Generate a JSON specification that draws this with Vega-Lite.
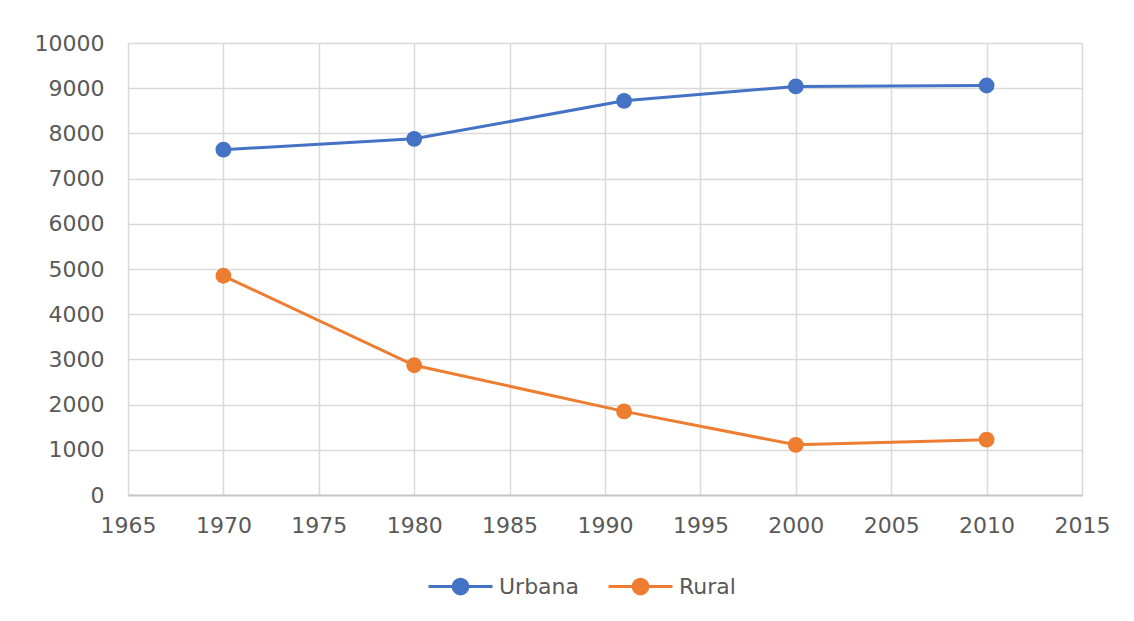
{
  "$schema": "https://vega.github.io/schema/vega-lite/v6.json",
  "width": 954,
  "height": 452,
  "autosize": "none",
  "padding": {"left": 128, "top": 43, "right": 52, "bottom": 126},
  "background": "white",
  "config": {
    "view": {"stroke": null},
    "font": "DejaVu Sans"
  },
  "data": {
    "values": [
      {"year": 1970, "series": "Urbana", "value": 7640},
      {"year": 1980, "series": "Urbana", "value": 7880},
      {"year": 1991, "series": "Urbana", "value": 8720},
      {"year": 2000, "series": "Urbana", "value": 9040},
      {"year": 2010, "series": "Urbana", "value": 9060},
      {"year": 1970, "series": "Rural", "value": 4850},
      {"year": 1980, "series": "Rural", "value": 2870},
      {"year": 1991, "series": "Rural", "value": 1850},
      {"year": 2000, "series": "Rural", "value": 1110},
      {"year": 2010, "series": "Rural", "value": 1225}
    ]
  },
  "encoding": {
    "x": {
      "field": "year",
      "type": "quantitative",
      "scale": {"domain": [1965, 2015], "nice": false, "zero": false},
      "axis": {
        "title": null,
        "values": [1965, 1970, 1975, 1980, 1985, 1990, 1995, 2000, 2005, 2010, 2015],
        "format": "d",
        "ticks": false,
        "labelFont": "DejaVu Sans",
        "labelFontSize": 22,
        "labelColor": "#595959",
        "labelPadding": 20,
        "labelFlush": false,
        "grid": true,
        "gridColor": "#D9D9D9",
        "gridWidth": 1.5,
        "domainColor": "#C6C6C6",
        "domainWidth": 2
      }
    },
    "y": {
      "field": "value",
      "type": "quantitative",
      "scale": {"domain": [0, 10000], "nice": false},
      "axis": {
        "title": null,
        "values": [0, 1000, 2000, 3000, 4000, 5000, 6000, 7000, 8000, 9000, 10000],
        "format": "d",
        "ticks": false,
        "domain": false,
        "labelFont": "DejaVu Sans",
        "labelFontSize": 22,
        "labelColor": "#595959",
        "labelPadding": 24,
        "grid": true,
        "gridColor": "#D9D9D9",
        "gridWidth": 1.5
      }
    },
    "color": {
      "field": "series",
      "type": "nominal",
      "scale": {"domain": ["Urbana", "Rural"], "range": ["#4472C4", "#ED7D31"]},
      "legend": {
        "title": null,
        "orient": "none",
        "legendX": 299,
        "legendY": 510,
        "direction": "horizontal",
        "symbolType": "M-1,0H1M-0.23,0A0.23,0.23 0 1,0 0.23,0A0.23,0.23 0 1,0 -0.23,0Z",
        "symbolSize": 4096,
        "symbolStrokeWidth": 3,
        "labelFont": "DejaVu Sans",
        "labelFontSize": 22,
        "labelColor": "#595959",
        "labelOffset": 5,
        "columnPadding": 22,
        "encode": {
          "symbols": {
            "update": {
              "fill": {"scale": "color", "field": "value"},
              "stroke": {"scale": "color", "field": "value"},
              "opacity": {"value": 1}
            }
          }
        }
      }
    }
  },
  "layer": [
    {"mark": {"type": "line", "strokeWidth": 3}},
    {"mark": {"type": "point", "filled": true, "size": 250, "opacity": 1}}
  ]
}
